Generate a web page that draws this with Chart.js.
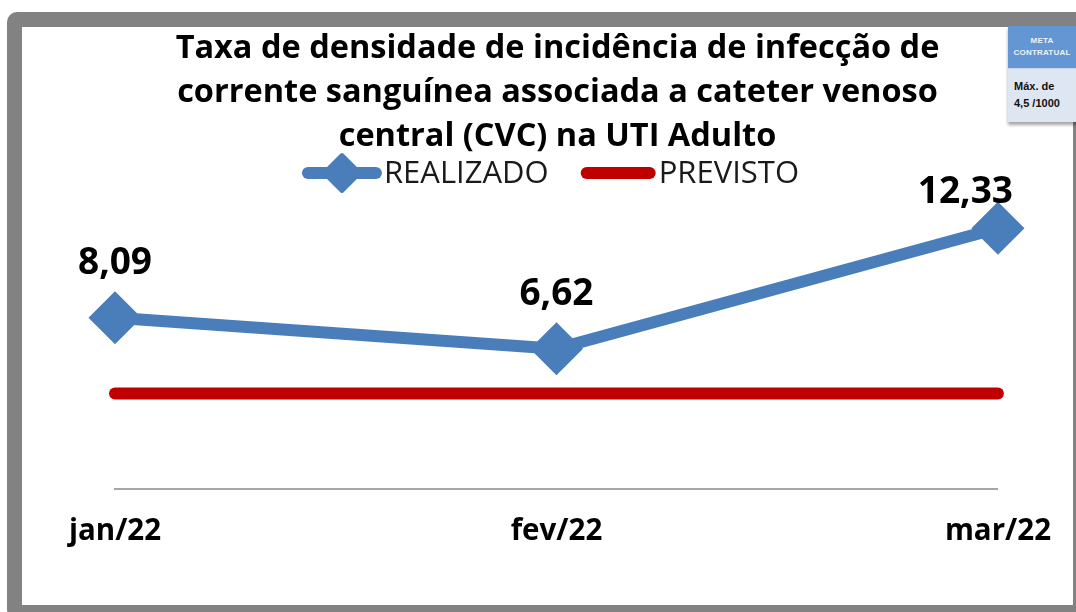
<!DOCTYPE html>
<html>
<head>
<meta charset="utf-8">
<script src="https://cdn.jsdelivr.net/npm/chart.js@4.4.1/dist/chart.umd.min.js"></script>
<style>
  html, body { margin: 0; padding: 0; background: #ffffff; width: 1076px; height: 612px; overflow: hidden; }
  #frame { position: absolute; left: 7px; top: 12px; width: 1081px; height: 608px; box-sizing: border-box;
           border: 15px solid #828282; border-radius: 10px; background: #ffffff; }
  #wrap { position: absolute; left: 0; top: 0; width: 1076px; height: 612px; }
  #meta { position: absolute; left: 1008px; top: 26px; width: 90px; font-family: "Liberation Sans", Arial, sans-serif;
          box-shadow: 0 3px 3px rgba(0,0,0,0.35); }
  #meta .head { background: #6496d3; color: #eef3fa; font-size: 8px; font-weight: bold; height: 42px; box-sizing: border-box;
                padding: 9px 0 0 0; line-height: 12px; width: 68px; text-align: center; letter-spacing: 0.2px; }
  #meta .body { background: #dde6f1; color: #111111; font-size: 11px; font-weight: bold; height: 54px; box-sizing: border-box;
                padding: 9px 0 0 6px; line-height: 17px; white-space: nowrap; border-top: 1px solid #c9d6e8; }
</style>
</head>
<body>
<div id="frame"></div>
<div id="wrap"><canvas id="c" width="1076" height="612"></canvas></div>
<div id="meta">
  <div class="head">META<br>CONTRATUAL</div>
  <div class="body">Máx. de<br>4,5 /1000</div>
</div>
<script>
const categories = ["jan/22", "fev/22", "mar/22"];
const realizado = [8.09, 6.62, 12.33];
const previsto = [4.5, 4.5, 4.5];
const titleLines = [
  "Taxa de densidade de incidência de infecção de",
  "corrente sanguínea associada a cateter venoso",
  "central (CVC) na UTI Adulto"
];
const seriesNames = ["REALIZADO", "PREVISTO"];

const BLUE = "#4a7ebb";
const RED = "#c00000";
const FONT = "'Open Sans', Lato, sans-serif";

// value labels above the REALIZADO points
const labelPlugin = {
  id: "valueLabels",
  afterDatasetsDraw(chart) {
    const meta = chart.getDatasetMeta(0);
    const ctx = chart.ctx;
    const area = chart.chartArea;
    ctx.save();
    ctx.font = "bold 37px " + FONT;
    ctx.fillStyle = "#000000";
    ctx.textAlign = "center";
    ctx.textBaseline = "middle";
    meta.data.forEach((pt, i) => {
      const txt = realizado[i].toFixed(2).replace(".", ",");
      const w = ctx.measureText(txt).width;
      let x = pt.x;
      let dy = 54;
      if (x + w / 2 > area.right + 15) { x = area.right + 15 - w / 2; dy = 36; }
      ctx.fillText(txt, x, pt.y - dy);
    });
    ctx.restore();
  }
};

// legend drawn in the space below the title (Excel-style line samples)
const legendPlugin = {
  id: "excelLegend",
  afterDraw(chart) {
    const ctx = chart.ctx;
    const area = chart.chartArea;
    const ds = chart.data.datasets;
    const y = 173;
    ctx.save();
    ctx.font = "31px " + FONT;
    ctx.textBaseline = "middle";
    ctx.textAlign = "left";
    const s1 = 80, s2 = 75, g1 = 2, g2 = 32, g3 = 3;
    const t1 = ctx.measureText(ds[0].label).width;
    const t2 = ctx.measureText(ds[1].label).width;
    const total = s1 + g1 + t1 + g2 + s2 + g3 + t2;
    let x = (area.left + area.right) / 2 - 6 - total / 2;
    // sample 1: line + diamond
    ctx.lineCap = "round";
    ctx.lineWidth = 12;
    ctx.strokeStyle = ds[0].borderColor;
    ctx.beginPath(); ctx.moveTo(x + 6, y); ctx.lineTo(x + s1 - 6, y); ctx.stroke();
    const cx = x + s1 / 2;
    ctx.fillStyle = ds[0].borderColor;
    ctx.lineJoin = "round"; ctx.lineWidth = 4;
    ctx.beginPath(); ctx.moveTo(cx, y - 18); ctx.lineTo(cx + 18, y); ctx.lineTo(cx, y + 18); ctx.lineTo(cx - 18, y); ctx.closePath();
    ctx.fill(); ctx.stroke();
    x += s1 + g1;
    ctx.fillStyle = "#1a1a1a";
    ctx.fillText(ds[0].label, x, y + 1);
    x += t1 + g2;
    // sample 2: thick red line
    ctx.lineWidth = 12;
    ctx.strokeStyle = ds[1].borderColor;
    ctx.beginPath(); ctx.moveTo(x + 6, y); ctx.lineTo(x + s2 - 6, y); ctx.stroke();
    x += s2 + g3;
    ctx.fillStyle = "#1a1a1a";
    ctx.fillText(ds[1].label, x, y + 1);
    ctx.restore();
  }
};

new Chart(document.getElementById("c"), {
  type: "line",
  data: {
    labels: categories,
    datasets: [
      {
        label: seriesNames[0], data: realizado, borderColor: BLUE, backgroundColor: BLUE,
        borderWidth: 12, borderJoinStyle: "round", pointStyle: "rectRot", pointRadius: 23,
        pointBorderWidth: 5, pointBorderColor: BLUE, pointBackgroundColor: BLUE, order: 0
      },
      {
        label: seriesNames[1], data: previsto, borderColor: RED, backgroundColor: RED,
        borderWidth: 12, borderCapStyle: "round", pointRadius: 0, order: 1
      }
    ]
  },
  options: {
    responsive: false,
    animation: false,
    layout: { padding: { left: 115, right: 76, top: 0, bottom: 38 } },
    plugins: {
      tooltip: { enabled: false },
      legend: { display: false },
      title: {
        display: true, text: titleLines, color: "#000000",
        font: { family: FONT, size: 32.5, weight: "bold", lineHeight: "44px" },
        padding: { top: 27, bottom: 34 }
      }
    },
    scales: {
      x: {
        offset: false,
        grid: { display: false, drawTicks: false },
        border: { display: true, color: "#a6a6a6", width: 2 },
        ticks: { color: "#000000", padding: 25, font: { family: FONT, size: 29.5, weight: "bold" } }
      },
      y: { display: false, min: 0, max: 14 }
    }
  },
  plugins: [labelPlugin, legendPlugin]
});
</script>
</body>
</html>
